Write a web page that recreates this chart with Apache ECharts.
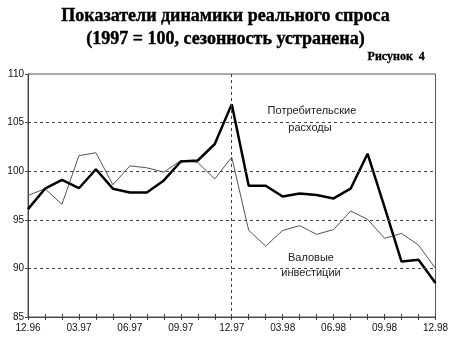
<!DOCTYPE html>
<html><head><meta charset="utf-8">
<script src="https://cdn.jsdelivr.net/npm/echarts@6/dist/echarts.min.js"></script>
<style>html,body{margin:0;padding:0;background:#fff}#c{width:451px;height:340px}</style>
</head><body><div id="c"></div>
<script>
const months = ['12.96','01.97','02.97','03.97','04.97','05.97','06.97','07.97','08.97','09.97','10.97','11.97','12.97',
  '01.98','02.98','03.98','04.98','05.98','06.98','07.98','08.98','09.98','10.98','11.98','12.98'];
const consumption = [96.1,98.2,99.1,98.25,100.2,98.2,97.8,97.8,99.05,101.0,101.1,102.8,106.9,
  98.5,98.5,97.4,97.7,97.55,97.2,98.2,101.8,96.3,90.7,90.9,88.5];
const investment = [97.5,98.2,96.6,101.6,101.9,98.6,100.55,100.35,99.9,101.1,100.9,99.2,101.45,
  93.9,92.3,93.9,94.4,93.5,94.0,95.9,95.05,93.1,93.6,92.4,90.0];
const yTicks = {min:85, max:110, step:5};
const gridValues = [90,95,100,105];
const markerMonth = '12.97';
const titleLines = ['Показатели динамики реального спроса','(1997 = 100, сезонность устранена)'];
const figureLabel = 'Рисунок  4';
const seriesLabels = [['Потребительские','расходы'],['Валовые','инвестиции']];

const chart = echarts.init(document.getElementById('c'), null, {renderer:'canvas'});
const sans = 'Liberation Sans, Arial, sans-serif';
const serif = 'Liberation Serif, Times New Roman, serif';
chart.setOption({
  animation:false,
  backgroundColor:'#fff',
  grid:{left:28,right:13,top:74,bottom:23,show:true,borderColor:'#555',borderWidth:1,backgroundColor:'transparent'},
  xAxis:[{
    type:'category',data:months,boundaryGap:false,
    axisLine:{lineStyle:{color:'#444',width:1}},
    axisTick:{show:true,interval:0,length:3,lineStyle:{color:'#444'}},
    axisLabel:{interval:2,color:'#111',fontFamily:sans,fontSize:10,margin:6},
    splitLine:{show:false}
  },{
    type:'category',data:months,boundaryGap:false,position:'bottom',
    axisLine:{show:false},
    axisTick:{show:true,inside:true,interval:0,length:3,lineStyle:{color:'#444'}},
    axisLabel:{show:false},splitLine:{show:false}
  }],
  yAxis:{
    type:'value',min:yTicks.min,max:yTicks.max,interval:yTicks.step,
    axisLine:{show:true,lineStyle:{color:'#444',width:1}},
    axisTick:{show:true,length:3,lineStyle:{color:'#444'}},
    axisLabel:{color:'#111',fontFamily:sans,fontSize:10,margin:4},
    splitLine:{show:false}
  },
  series:[{
    type:'line',data:investment,symbol:'none',
    lineStyle:{color:'#555',width:1},z:2,
    markLine:{silent:true,symbol:'none',label:{show:false},
      lineStyle:{color:'#444',type:[3,3],width:1},
      data:gridValues.map(v=>({yAxis:v})).concat([{xAxis:markerMonth}])}
  },{
    type:'line',data:consumption,symbol:'none',
    lineStyle:{color:'#000',width:2.5},z:3
  }],
  graphic:[
    {type:'text',left:'center',top:7,style:{text:titleLines[0],font:'bold 18px '+serif,fill:'#000',stroke:'#000',lineWidth:0.4}},
    {type:'text',left:'center',top:30,style:{text:titleLines[1],font:'bold 18px '+serif,fill:'#000',stroke:'#000',lineWidth:0.4}},
    {type:'text',right:26,top:51,style:{text:figureLabel,font:'bold 12px '+serif,fill:'#000',stroke:'#000',lineWidth:0.3}},
    {type:'text',x:312,y:111,style:{text:seriesLabels[0][0],font:'11px '+sans,fill:'#222',align:'center',verticalAlign:'middle'}},
    {type:'text',x:310,y:128,style:{text:seriesLabels[0][1],font:'11px '+sans,fill:'#222',align:'center',verticalAlign:'middle'}},
    {type:'text',x:311,y:258,style:{text:seriesLabels[1][0],font:'11px '+sans,fill:'#222',align:'center',verticalAlign:'middle'}},
    {type:'text',x:311,y:273,style:{text:seriesLabels[1][1],font:'11px '+sans,fill:'#222',align:'center',verticalAlign:'middle'}}
  ]
});
</script></body></html>
